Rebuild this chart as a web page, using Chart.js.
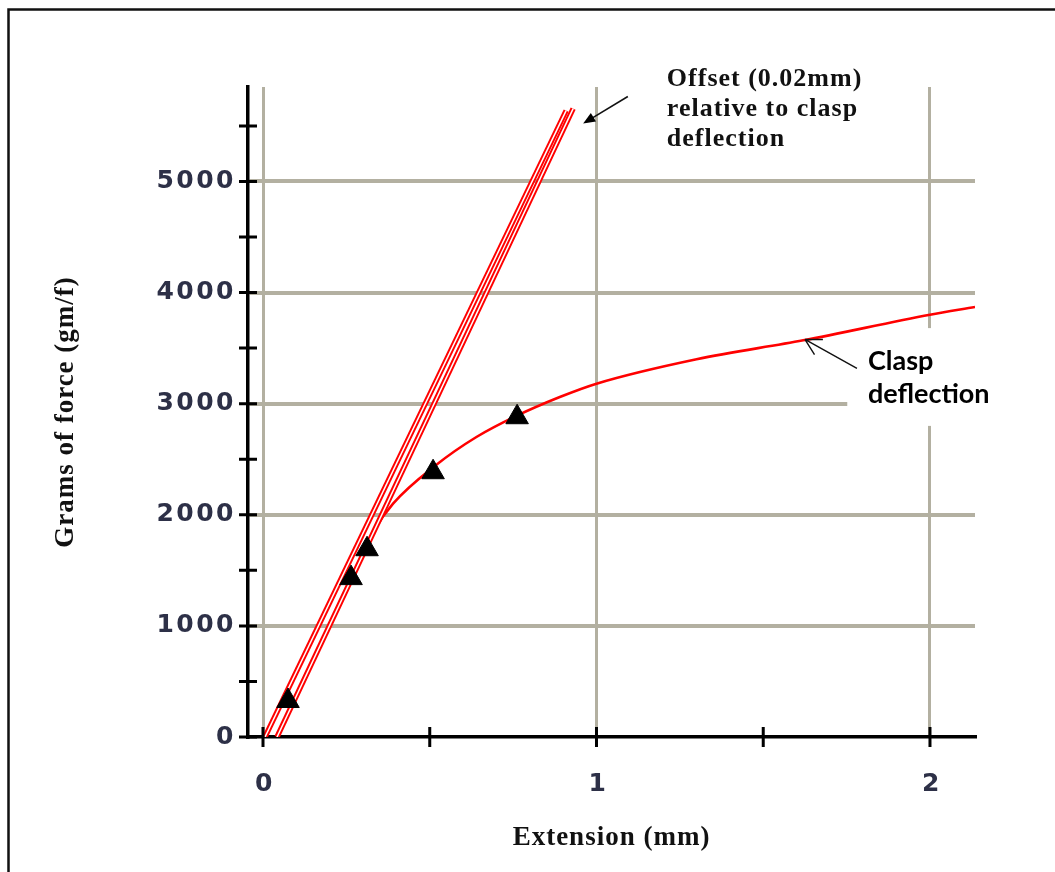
<!DOCTYPE html>
<html>
<head>
<meta charset="utf-8">
<title>Clasp deflection</title>
<script src="https://cdn.jsdelivr.net/npm/chart.js@4.4.1/dist/chart.umd.min.js"></script>
<style>
  html, body { margin: 0; padding: 0; background: #fff; }
  #wrap { width: 1055px; height: 872px; }
</style>
</head>
<body>
<div id="wrap"><canvas id="forceChart" width="1055" height="872"></canvas></div>
<script>
// measured loads (triangles)
const sampleExt = [0.075, 0.264, 0.312, 0.51, 0.762];
const sampleForce = [324, 1430, 1690, 2383, 2878];

// clasp deflection curve
const claspExt = [0.042, 0.2, 0.335, 0.39, 0.52, 0.64, 0.76, 0.89, 1.0, 1.3, 1.62, 2.0, 2.135];
const claspForce = [0, 1004, 1867, 2100, 2450, 2700, 2890, 3060, 3180, 3400, 3570, 3800, 3870];

// 0.02mm offset lines
const offsetExtA = [0.006, 0.909];
const offsetForceA = [0, 5638];
const offsetExtB = [0.042, 0.930];
const offsetForceB = [0, 5656];

// axis ticks
const xTicks = [0, 0.5, 1, 1.5, 2];
const xLabels = ['0', '', '1', '', '2'];
const yTicks = [0, 500, 1000, 1500, 2000, 2500, 3000, 3500, 4000, 4500, 5000, 5500];
const yLabels = ['0', '', '1000', '', '2000', '', '3000', '', '4000', '', '5000', ''];

const GRID = '#b3b0a1';
const RED = '#ff0000';

const toPoints = (xs, ys) => xs.map((x, i) => ({ x: x, y: ys[i] }));

// callouts, positioned in data units
const offsetNote = { lines: ['Offset (0.02mm)', 'relative to clasp', 'deflection'], at: [1.211, 5863] };
const offsetArrow = { from: [1.094, 5764], to: [0.96, 5522] };
const claspNote = { lines: ['Clasp', 'deflection'], at: [1.814, 3300], box: [1.752, 3680, 2.4, 2800] };
const claspArrow = { from: [1.781, 3318], to: [1.625, 3579] };

// axis ticks cross the axis lines, drawn on both sides
const crossTicks = {
  id: 'crossTicks',
  afterDraw(chart) {
    const { ctx, chartArea, scales: { x, y } } = chart;
    ctx.save();
    ctx.strokeStyle = '#000';
    ctx.lineWidth = 3;
    ctx.beginPath();
    y.ticks.forEach(t => {
      const py = y.getPixelForValue(t.value);
      ctx.moveTo(chartArea.left - 9, py);
      ctx.lineTo(chartArea.left + 9, py);
    });
    x.ticks.forEach(t => {
      const px = x.getPixelForValue(t.value);
      ctx.moveTo(px, chartArea.bottom - 10);
      ctx.lineTo(px, chartArea.bottom + 10);
    });
    ctx.stroke();
    ctx.restore();
  }
};

// text spacing for the stretched figure lettering
const spacing = {
  id: 'spacing',
  beforeDraw(chart) { chart.ctx.letterSpacing = '1px'; },
  afterDatasetsDraw(chart) { chart.ctx.letterSpacing = '2.5px'; }
};

const callouts = {
  id: 'callouts',
  beforeDatasetsDraw(chart) {
    const { ctx, scales: { x, y } } = chart;
    const b = claspNote.box;
    const x0 = x.getPixelForValue(b[0]), y0 = y.getPixelForValue(b[1]);
    ctx.save();
    ctx.fillStyle = '#fff';
    ctx.fillRect(x0, y0, x.getPixelForValue(b[2]) - x0, y.getPixelForValue(b[3]) - y0);
    ctx.restore();
  },
  afterDraw(chart) {
    const { ctx, scales: { x, y } } = chart;
    const px = p => [x.getPixelForValue(p[0]), y.getPixelForValue(p[1])];
    ctx.save();
    ctx.fillStyle = '#111';
    ctx.textAlign = 'left';
    ctx.textBaseline = 'alphabetic';

    // offset label, serif
    ctx.letterSpacing = '1px';
    ctx.font = 'bold 26px "Liberation Serif", "DejaVu Serif", serif';
    let [tx, ty] = px(offsetNote.at);
    offsetNote.lines.forEach((s, i) => ctx.fillText(s, tx, ty + i * 30));

    // clasp label
    ctx.letterSpacing = '0px';
    ctx.fillStyle = '#000';
    ctx.font = 'bold 27px Lato, "Open Sans", sans-serif';
    [tx, ty] = px(claspNote.at);
    claspNote.lines.forEach((s, i) => ctx.fillText(s, tx, ty + i * 33));

    // filled arrow for the offset label
    ctx.strokeStyle = '#111';
    ctx.lineWidth = 1.6;
    let [ax, ay] = px(offsetArrow.from);
    let [bx, by] = px(offsetArrow.to);
    let ang = Math.atan2(by - ay, bx - ax);
    ctx.beginPath();
    ctx.moveTo(ax, ay);
    ctx.lineTo(bx - Math.cos(ang) * 8, by - Math.sin(ang) * 8);
    ctx.stroke();
    ctx.beginPath();
    ctx.moveTo(bx, by);
    ctx.lineTo(bx - Math.cos(ang) * 12 + Math.sin(ang) * 5, by - Math.sin(ang) * 12 - Math.cos(ang) * 5);
    ctx.lineTo(bx - Math.cos(ang) * 12 - Math.sin(ang) * 5, by - Math.sin(ang) * 12 + Math.cos(ang) * 5);
    ctx.closePath();
    ctx.fill();

    // open arrow for the clasp label
    ctx.lineWidth = 1.4;
    [ax, ay] = px(claspArrow.from);
    [bx, by] = px(claspArrow.to);
    ang = Math.atan2(by - ay, bx - ax);
    ctx.beginPath();
    ctx.moveTo(ax, ay);
    ctx.lineTo(bx, by);
    [-0.5, 0.5].forEach(d => {
      ctx.moveTo(bx, by);
      ctx.lineTo(bx - Math.cos(ang + d) * 18, by - Math.sin(ang + d) * 18);
    });
    ctx.stroke();

    // page frame
    ctx.strokeStyle = '#111';
    ctx.lineWidth = 2.5;
    ctx.strokeRect(8.5, 9.5, 1200, 1000);

    ctx.letterSpacing = '0px';
    ctx.restore();
  }
};

const tickFont = { family: '"DejaVu Sans", Verdana, sans-serif', size: 25, weight: 'bold' };
const titleFont = { family: '"Liberation Serif", "Times New Roman", serif', size: 27, weight: 'bold' };

new Chart(document.getElementById('forceChart'), {
  type: 'scatter',
  data: {
    datasets: [
      {
        label: 'Measured',
        data: toPoints(sampleExt, sampleForce),
        pointStyle: 'triangle',
        pointRadius: 13,
        backgroundColor: '#000',
        borderColor: '#000',
        borderWidth: 1,
        order: 0
      },
      {
        label: 'Offset A core',
        data: toPoints(offsetExtA, offsetForceA),
        showLine: true, pointRadius: 0,
        borderColor: '#fff', borderWidth: 1.5,
        order: 1
      },
      {
        label: 'Offset A',
        data: toPoints(offsetExtA, offsetForceA),
        showLine: true, pointRadius: 0,
        borderColor: RED, borderWidth: 5.4,
        order: 2
      },
      {
        label: 'Offset B core',
        data: toPoints(offsetExtB, offsetForceB),
        showLine: true, pointRadius: 0,
        borderColor: '#fff', borderWidth: 1.5,
        order: 3
      },
      {
        label: 'Offset B',
        data: toPoints(offsetExtB, offsetForceB),
        showLine: true, pointRadius: 0,
        borderColor: RED, borderWidth: 5.4,
        order: 4
      },
      {
        label: 'Clasp deflection',
        data: toPoints(claspExt, claspForce),
        showLine: true, pointRadius: 0,
        borderColor: RED, borderWidth: 2.6,
        cubicInterpolationMode: 'monotone',
        order: 5
      }
    ]
  },
  options: {
    responsive: false,
    animation: false,
    devicePixelRatio: 1,
    layout: { padding: { top: 87, right: 80, left: 0, bottom: 0 } },
    plugins: {
      legend: { display: false },
      tooltip: { enabled: false }
    },
    scales: {
      x: {
        type: 'linear',
        min: -0.045,
        max: 2.135,
        afterFit: s => { s.height = 135; },
        afterBuildTicks: s => { s.ticks = xTicks.map(v => ({ value: v })); },
        ticks: {
          z: 1,
          padding: 32,
          labelOffset: 2,
          color: '#2d3047',
          font: tickFont,
          callback: (v, i) => xLabels[i]
        },
        grid: {
          drawTicks: false,
          lineWidth: 3,
          color: c => (c.tick && Number.isInteger(c.tick.value) ? GRID : 'rgba(0,0,0,0)')
        },
        border: { color: '#000', width: 3.5 },
        title: {
          display: true,
          text: 'Extension (mm)',
          color: '#111',
          font: titleFont,
          padding: { bottom: 18 }
        }
      },
      y: {
        type: 'linear',
        min: 0,
        max: 5850,
        afterFit: s => { s.width = 248; },
        afterBuildTicks: s => { s.ticks = yTicks.map(v => ({ value: v })); },
        ticks: {
          z: 1,
          padding: 12,
          color: '#2d3047',
          font: tickFont,
          callback: (v, i) => yLabels[i]
        },
        grid: {
          drawTicks: false,
          lineWidth: 4,
          color: c => (c.tick && c.tick.value > 0 && c.tick.value % 1000 === 0 ? GRID : 'rgba(0,0,0,0)')
        },
        border: { color: '#000', width: 3.5 },
        title: {
          display: true,
          text: 'Grams of force (gm/f)',
          color: '#111',
          font: titleFont,
          padding: { top: 50 }
        }
      }
    }
  },
  plugins: [spacing, callouts, crossTicks]
});
</script>
</body>
</html>
